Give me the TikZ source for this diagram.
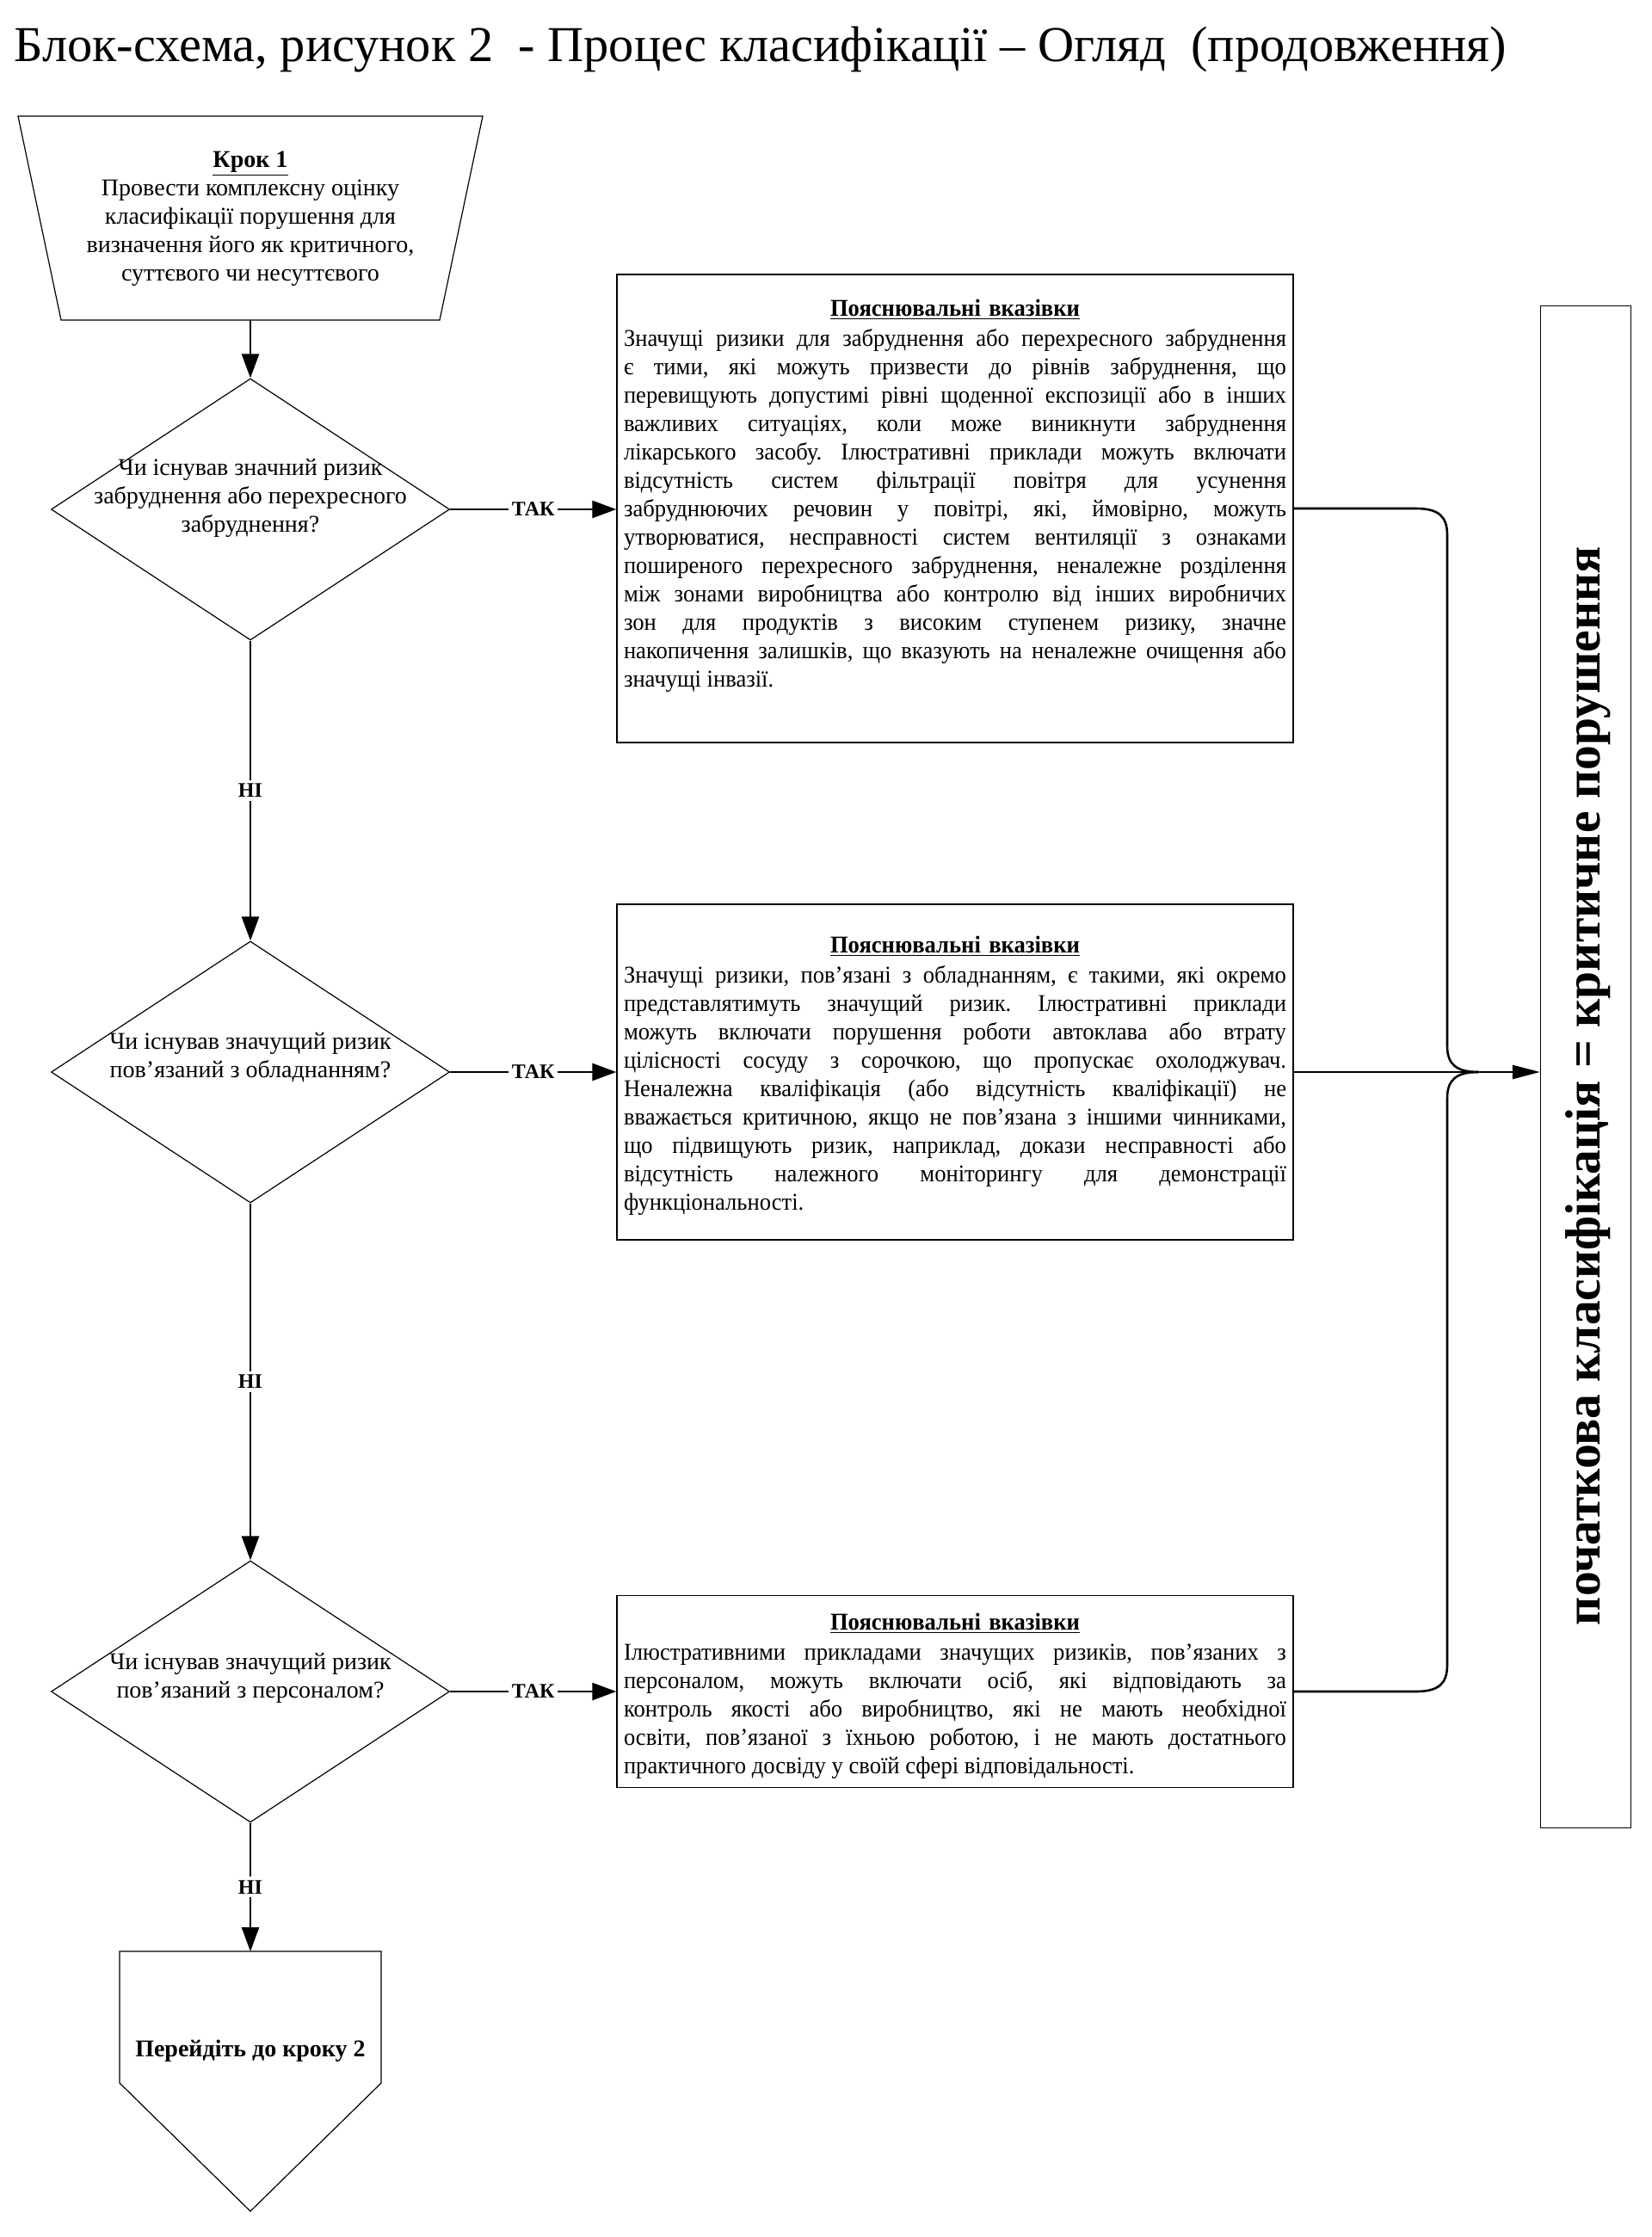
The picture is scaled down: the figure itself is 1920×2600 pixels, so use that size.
\documentclass[tikz,border=0pt]{standalone}
\usepackage{fontspec}
\setmainfont{Liberation Serif}
\newfontfamily\boxfont{Liberation Serif}[FakeStretch=0.95]
\usetikzlibrary{shapes.geometric,arrows.meta}
\frenchspacing
\newlength\ntw
\setlength\ntw{385pt}
\newcommand{\nhead}[1]{\par\hbox to\ntw{\hss\textbf{\underline{#1}}\hss}\vskip1pt}
\newcommand{\jline}[1]{\par\hbox to\ntw{\frenchspacing\spaceskip=0pt\xspaceskip=0pt\relax #1}}
\newcommand{\lline}[1]{\par\hbox to\ntw{\frenchspacing\spaceskip=0pt\xspaceskip=0pt\relax #1\hfil}}
\begin{document}
\begin{tikzpicture}[x=0.5pt,y=-0.5pt,
  body/.style={font=\fontsize{14}{16.5}\selectfont},
  shp/.style={draw,line width=0.6pt},
  notebox/.style={draw,line width=0.7pt,minimum width=393pt,inner sep=0pt},
  dia/.style={diamond,draw,line width=0.6pt,minimum width=231.5pt,minimum height=152pt,inner sep=0pt},
  conn/.style={line width=1.3pt,-{Triangle[length=14pt,width=10pt]}},
  link/.style={line width=1.3pt},
  lbl/.style={fill=white,inner sep=2pt,font=\fontsize{12}{14}\selectfont\bfseries},
  ntext/.style={font=\boxfont\fontsize{14}{16.5}\selectfont,anchor=north,text width=385pt,inner sep=0pt}
]
\useasboundingbox (0,0) rectangle (1920,2600);
\fill[white] (0,0) rectangle (1920,2600);

% title
\node[anchor=west,inner sep=0pt,font=\fontsize{29.2}{34}\selectfont] (title) at (16,58)
  {Блок-схема, рисунок 2~~- Процес класифікації – Огляд~~(продовження)};

% step 1 (trapezoid)
\draw[shp] (21,135) -- (561,135) -- (511,372) -- (71,372) -- cycle;
\node[body,align=center,inner sep=0pt] (step1) at (291,254)
  {\textbf{\underline{Крок 1}}\\Провести комплексну оцінку\\класифікації порушення для\\визначення його як критичного,\\суттєвого чи несуттєвого};
\coordinate (s1b) at (291,372);

% diamonds
\node[dia] (d1) at (291,592) {};
\node[body,align=center,inner sep=0pt] (q1) at (291,579)
  {Чи існував значний ризик\\забруднення або перехресного\\забруднення?};
\node[dia] (d2) at (291,1246) {};
\node[body,align=center,inner sep=0pt] (q2) at (291,1229)
  {Чи існував значущий ризик\\пов’язаний з обладнанням?};
\node[dia] (d3) at (291,1966) {};
\node[body,align=center,inner sep=0pt] (q3) at (291,1950)
  {Чи існував значущий ризик\\пов’язаний з персоналом?};

% go to step 2 (pentagon)
\draw[shp] (139,2268) -- (443,2268) -- (443,2421) -- (291,2570) -- (139,2421) -- cycle;
\coordinate (gtop) at (291,2268);
\node[font=\fontsize{14}{16.5}\selectfont\bfseries,inner sep=0pt] (goto) at (291,2384) {Перейдіть до кроку 2};

% explanatory boxes
\node[notebox,minimum height=272pt] (b1) at (1110,591) {};
\node[ntext] (t1) at (1110,334) {%
\nhead{Пояснювальні вказівки}%
\jline{Значущі ризики для забруднення або перехресного забруднення}%
\jline{є тими, які можуть призвести до рівнів забруднення, що}%
\jline{перевищують допустимі рівні щоденної експозиції або в інших}%
\jline{важливих ситуаціях, коли може виникнути забруднення}%
\jline{лікарського засобу. Ілюстративні приклади можуть включати}%
\jline{відсутність систем фільтрації повітря для усунення}%
\jline{забруднюючих речовин у повітрі, які, ймовірно, можуть}%
\jline{утворюватися, несправності систем вентиляції з ознаками}%
\jline{поширеного перехресного забруднення, неналежне розділення}%
\jline{між зонами виробництва або контролю від інших виробничих}%
\jline{зон для продуктів з високим ступенем ризику, значне}%
\jline{накопичення залишків, що вказують на неналежне очищення або}%
\lline{значущі інвазії.}};

\node[notebox,minimum height=195pt] (b2) at (1110,1246) {};
\node[ntext] (t2) at (1110,1074) {%
\nhead{Пояснювальні вказівки}%
\jline{Значущі ризики, пов’язані з обладнанням, є такими, які окремо}%
\jline{представлятимуть значущий ризик. Ілюстративні приклади}%
\jline{можуть включати порушення роботи автоклава або втрату}%
\jline{цілісності сосуду з сорочкою, що пропускає охолоджувач.}%
\jline{Неналежна кваліфікація (або відсутність кваліфікації) не}%
\jline{вважається критичною, якщо не пов’язана з іншими чинниками,}%
\jline{що підвищують ризик, наприклад, докази несправності або}%
\jline{відсутність належного моніторингу для демонстрації}%
\lline{функціональності.}};

\node[notebox,minimum height=111.5pt] (b3) at (1110,1966) {};
\node[ntext] (t3) at (1110,1861) {%
\nhead{Пояснювальні вказівки}%
\jline{Ілюстративними прикладами значущих ризиків, пов’язаних з}%
\jline{персоналом, можуть включати осіб, які відповідають за}%
\jline{контроль якості або виробництво, які не мають необхідної}%
\jline{освіти, пов’язаної з їхньою роботою, і не мають достатнього}%
\lline{практичного досвіду у своїй сфері відповідальності.}};

% result box
\node[draw,line width=0.7pt,minimum width=52.5pt,minimum height=884.5pt,inner sep=0pt] (big) at (1843,1240) {};
\node[rotate=90,inner sep=0pt,font=\fontsize{28.8}{34}\selectfont\bfseries] (res) at (1846,1262)
  {початкова класифікація = критичне порушення};

% vertical flow
\draw[conn] (s1b) -- (d1.north);
\draw[conn] (d1.south) -- node[lbl] {НІ} (d2.north);
\draw[conn] (d2.south) -- node[lbl] {НІ} (d3.north);
\draw[conn] (d3.south) -- node[lbl] {НІ} (gtop);

% yes branches
\draw[conn] (d1.east) -- node[lbl] {ТАК} (d1.east -| b1.west);
\draw[conn] (d2.east) -- node[lbl] {ТАК} (d2.east -| b2.west);
\draw[conn] (d3.east) -- node[lbl] {ТАК} (d3.east -| b3.west);

% brace to result
\coordinate (merge) at (1718,1246);
\draw[link] (b1.east) -- (1645,591) .. controls (1672,591) and (1682,600) .. (1682,622)
  -- (1682,1216) .. controls (1682,1238) and (1694,1246) .. (merge);
\draw[link] (b3.east) -- (1645,1966) .. controls (1672,1966) and (1682,1957) .. (1682,1935)
  -- (1682,1276) .. controls (1682,1254) and (1694,1246) .. (merge);
\draw[line width=1.3pt,-{Triangle[length=16pt,width=8pt]}] (b2.east) -- (b2.east -| big.west);
\end{tikzpicture}
\end{document}
